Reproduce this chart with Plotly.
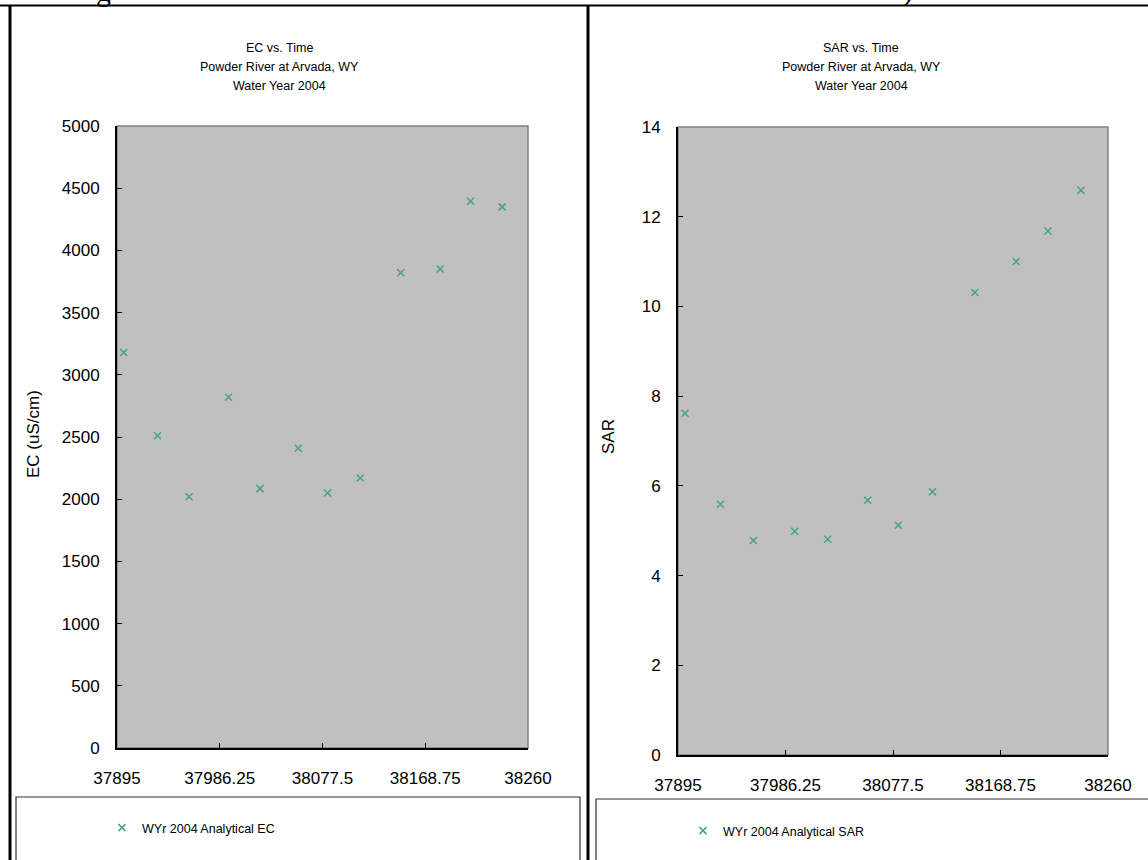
import plotly.graph_objects as go

# ---- data (Excel serial dates, Water Year 2004) ----
sample_dates = [37901, 37931, 37959, 37994, 38022, 38056, 38082, 38111, 38147, 38182, 38209, 38237]
ec_values = [3180, 2510, 2020, 2820, 2085, 2410, 2050, 2170, 3820, 3850, 4395, 4350]
sar_values = [7.62, 5.59, 4.78, 4.99, 4.81, 5.68, 5.12, 5.87, 10.31, 11.0, 11.68, 12.59]

x_tickvals = [37895, 37986.25, 38077.5, 38168.75, 38260]
x_ticktext = ["37895", "37986.25", "38077.5", "38168.75", "38260"]

ec_title_lines = ["EC vs. Time", "Powder River at Arvada, WY", "Water Year 2004"]
sar_title_lines = ["SAR vs. Time", "Powder River at Arvada, WY", "Water Year 2004"]
ec_axis_title = "EC (uS/cm)"
sar_axis_title = "SAR"
ec_legend_name = "WYr 2004 Analytical EC"
sar_legend_name = "WYr 2004 Analytical SAR"
heading_fragments = ["g", ")"]

W, H = 1148, 860
def PX(x):
    return x / W
def PY(y):
    return 1 - y / H

FONT = "Liberation Sans, Arial, sans-serif"
SERIF = "Liberation Serif, Times New Roman, serif"
MARK = "#45a675"

fig = go.Figure()
fig.add_trace(go.Scatter(
    x=sample_dates, y=ec_values, mode="markers", name=ec_legend_name,
    marker=dict(symbol="x-thin", size=7, line=dict(width=1.5, color=MARK), color=MARK),
    xaxis="x", yaxis="y", legend="legend"))
fig.add_trace(go.Scatter(
    x=sample_dates, y=sar_values, mode="markers", name=sar_legend_name,
    marker=dict(symbol="x-thin", size=7, line=dict(width=1.5, color=MARK), color=MARK),
    xaxis="x2", yaxis="y2", legend="legend2"))

xcommon = dict(range=[x_tickvals[0], x_tickvals[-1]], tickvals=x_tickvals, ticktext=x_ticktext,
               showgrid=False, zeroline=False, showline=True, linecolor="black", linewidth=2,
               ticks="inside", ticklen=5, tickwidth=1, tickcolor="black", automargin=False,
               tickfont=dict(family=FONT, size=17, color="black"), ticklabelstandoff=14)
ycommon = dict(showgrid=False, zeroline=False, showline=True, linecolor="black", linewidth=2,
               ticks="inside", ticklen=5, tickwidth=1, tickcolor="black", automargin=False,
               tickfont=dict(family=FONT, size=17, color="black"), ticklabelstandoff=12)

fig.update_layout(
    width=W, height=H, autosize=False,
    margin=dict(l=0, r=0, t=0, b=0, pad=0, autoexpand=False),
    paper_bgcolor="white", plot_bgcolor="#c0c0c0",
    xaxis=dict(domain=[PX(117), PX(528)], anchor="y", **xcommon),
    yaxis=dict(domain=[PY(748), PY(126)], anchor="x", range=[0, 5000], dtick=500, **ycommon),
    xaxis2=dict(domain=[PX(678), PX(1108)], anchor="y2", **xcommon),
    yaxis2=dict(domain=[PY(755), PY(127)], anchor="x2", range=[0, 14], dtick=2, **ycommon),
    legend=dict(x=PX(102), y=PY(828), xanchor="left", yanchor="middle", bgcolor="rgba(0,0,0,0)",
                font=dict(family=FONT, size=12.5, color="black"), itemwidth=30),
    legend2=dict(x=PX(683), y=PY(831), xanchor="left", yanchor="middle", bgcolor="rgba(0,0,0,0)",
                 font=dict(family=FONT, size=12.5, color="black"), itemwidth=30),
    showlegend=True,
)

shapes = []
# plot-area gray frames (top/right edges)
shapes.append(dict(type="rect", xref="paper", yref="paper", x0=PX(117), x1=PX(528), y0=PY(748), y1=PY(126),
                   line=dict(color="#808080", width=1.5), layer="below"))
shapes.append(dict(type="rect", xref="paper", yref="paper", x0=PX(678), x1=PX(1108), y0=PY(755), y1=PY(127),
                   line=dict(color="#808080", width=1.5), layer="below"))
# panel borders
shapes.append(dict(type="line", xref="paper", yref="paper", x0=0, x1=1, y0=PY(5.5), y1=PY(5.5),
                   line=dict(color="black", width=2)))
shapes.append(dict(type="line", xref="paper", yref="paper", x0=PX(10), x1=PX(10), y0=PY(5), y1=PY(862),
                   line=dict(color="black", width=3)))
shapes.append(dict(type="line", xref="paper", yref="paper", x0=PX(588), x1=PX(588), y0=PY(5), y1=PY(862),
                   line=dict(color="black", width=3)))
# legend boxes
shapes.append(dict(type="rect", xref="paper", yref="paper", x0=PX(16), x1=PX(580), y0=PY(870), y1=PY(797),
                   line=dict(color="#303030", width=1.2)))
shapes.append(dict(type="rect", xref="paper", yref="paper", x0=PX(596), x1=PX(1160), y0=PY(870), y1=PY(799),
                   line=dict(color="#303030", width=1.2)))
fig.update_layout(shapes=shapes)

ann = []
title_y = [48, 67, 86]
for line, yy in zip(ec_title_lines, title_y):
    ann.append(dict(text=line, x=PX(279), y=PY(yy), xref="paper", yref="paper", showarrow=False,
                    xanchor="center", yanchor="middle", font=dict(family=FONT, size=12.5, color="black")))
for line, yy in zip(sar_title_lines, title_y):
    ann.append(dict(text=line, x=PX(861), y=PY(yy), xref="paper", yref="paper", showarrow=False,
                    xanchor="center", yanchor="middle", font=dict(family=FONT, size=12.5, color="black")))
ann.append(dict(text=ec_axis_title, x=PX(33), y=PY(434), xref="paper", yref="paper", showarrow=False,
                textangle=-90, xanchor="center", yanchor="middle", font=dict(family=FONT, size=17, color="black")))
ann.append(dict(text=sar_axis_title, x=PX(609), y=PY(437), xref="paper", yref="paper", showarrow=False,
                textangle=-90, xanchor="center", yanchor="middle", font=dict(family=FONT, size=17, color="black")))
# cut-off page heading fragments at the very top edge
for frag, xx in zip(heading_fragments, [103, 908]):
    ann.append(dict(text=frag, x=PX(xx), y=PY(9), xref="paper", yref="paper", showarrow=False,
                    xanchor="center", yanchor="bottom", font=dict(family=SERIF, size=30, color="black")))
fig.update_layout(annotations=ann)

fig.write_html("out.html",
               post_script="document.body.style.margin='0';document.body.style.overflow='hidden';")
